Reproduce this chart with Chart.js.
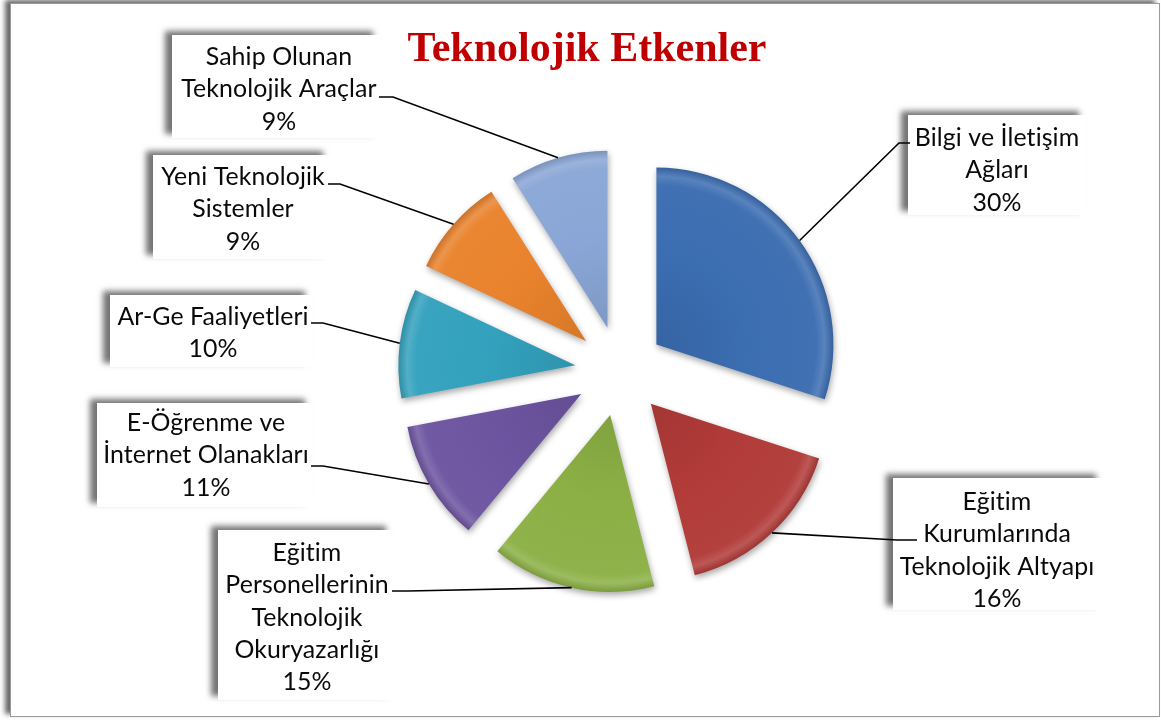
<!DOCTYPE html>
<html><head><meta charset="utf-8">
<script src="https://cdn.jsdelivr.net/npm/chart.js@4.4.1/dist/chart.umd.min.js"></script>
<style>html,body{margin:0;padding:0;background:#fff;overflow:hidden}canvas{display:block}</style>
</head><body>
<canvas id="c" width="1161" height="720"></canvas>
<script>
// ---- data ----
const chartTitle = "Teknolojik Etkenler";
const categories = [
  ["Bilgi ve İletişim", "Ağları"],
  ["Eğitim", "Kurumlarında", "Teknolojik Altyapı"],
  ["Eğitim", "Personellerinin", "Teknolojik", "Okuryazarlığı"],
  ["E-Öğrenme ve", "İnternet Olanakları"],
  ["Ar-Ge Faaliyetleri"],
  ["Yeni Teknolojik", "Sistemler"],
  ["Sahip Olunan", "Teknolojik Araçlar"]
];
const values = [30, 16, 15, 11, 10, 9, 9];

// ---- style / layout ----
const colors = ["#3B6DB1", "#B13B38", "#8CB045", "#6D54A0", "#33A1BD", "#E9822C", "#89A6D6"];
const EXPLODE = 45, RADIUS = 177;
const labelLayout = [
  {x: 908, y: 115, w: 178, h: 100, cx: 997, ty: 138, anchor: [910, 143], elbow: [899, 143]},
  {x: 893, y: 478, w: 210, h: 132, cx: 997, ty: 502, anchor: [917, 540], elbow: [897, 540]},
  {x: 218, y: 530, w: 175, h: 170, cx: 307, ty: 553, anchor: [392, 591], elbow: [408, 591]},
  {x: 97,  y: 403, w: 215, h: 104, cx: 206, ty: 423, anchor: [311, 466], elbow: [323, 466]},
  {x: 110, y: 295, w: 202, h: 72,  cx: 213, ty: 317, anchor: [311, 323], elbow: [323, 323]},
  {x: 153, y: 155, w: 177, h: 104, cx: 243, ty: 177, anchor: [328, 184], elbow: [340, 184]},
  {x: 172, y: 35,  w: 208, h: 103, cx: 279, ty: 57,  anchor: [379, 97],  elbow: [393, 97]}
];
const LINE_H = 32.3;

function hexToRgb(h){const n=parseInt(h.slice(1),16);return [(n>>16)&255,(n>>8)&255,n&255];}
function shade(h, t){
  const c = hexToRgb(h);
  const r = c.map(v => t >= 0 ? Math.round(v + (255 - v) * t) : Math.round(v * (1 + t)));
  return `rgb(${r[0]},${r[1]},${r[2]})`;
}
function sliceFill(context){
  const ch = context.chart, a = ch.chartArea;
  const base = colors[context.dataIndex];
  if (!a) return base;
  const cx = (a.left + a.right) / 2, cy = (a.top + a.bottom) / 2;
  const g = ch.ctx.createRadialGradient(cx, cy, 0, cx, cy, RADIUS);
  g.addColorStop(0, shade(base, -0.08));
  g.addColorStop(0.5, base);
  g.addColorStop(0.9, shade(base, 0.03));
  g.addColorStop(0.95, shade(base, 0.15));
  g.addColorStop(1, shade(base, -0.12));
  return g;
}

const framePlugin = {
  id: 'frame',
  beforeDraw(chart){
    const ctx = chart.ctx;
    ctx.save();
    ctx.fillStyle = '#fff';
    ctx.fillRect(0, 0, chart.width, chart.height);
    ctx.shadowColor = 'rgba(0,0,0,0.6)';
    ctx.shadowBlur = 5; ctx.shadowOffsetX = -5; ctx.shadowOffsetY = -3;
    ctx.fillRect(10, 3, 1150, 714);
    ctx.restore();
    ctx.save();
    ctx.strokeStyle = '#9a9a9a'; ctx.lineWidth = 1;
    ctx.strokeRect(10.5, 3.5, 1149, 713);
    ctx.fillStyle = '#C00000';
    ctx.font = 'bold 42px "Liberation Serif", "Times New Roman", serif';
    ctx.textAlign = 'center'; ctx.textBaseline = 'alphabetic';
    ctx.fillText(chartTitle, 587, 61);
    ctx.restore();
  }
};

const explodePlugin = {
  id: 'explode',
  beforeDatasetDraw(chart, args){
    const ctx = chart.ctx;
    args.meta.data.forEach(arc => {
      const mid = (arc.startAngle + arc.endAngle) / 2;
      ctx.save();
      ctx.translate(Math.cos(mid) * EXPLODE, Math.sin(mid) * EXPLODE);
      ctx.shadowColor = 'rgba(0,0,0,0.35)';
      ctx.shadowBlur = 6; ctx.shadowOffsetX = 1; ctx.shadowOffsetY = 3;
      arc.draw(ctx);
      ctx.restore();
    });
    return false;
  }
};

const labelPlugin = {
  id: 'calloutLabels',
  afterDatasetsDraw(chart){
    const ctx = chart.ctx;
    const meta = chart.getDatasetMeta(0);
    ctx.save();
    ctx.font = '100px Lato';
    if ('letterSpacing' in ctx) ctx.letterSpacing = '0.1px';
    const w100 = ctx.measureText('Teknolojik Araçlar').width;
    ctx.restore();
    const fs = 100 * 194 / w100;
    const total = values.reduce((s, v) => s + v, 0);
    meta.data.forEach((arc, i) => {
      const L = labelLayout[i];
      ctx.save();
      ctx.shadowColor = 'rgba(0,0,0,0.55)';
      ctx.shadowBlur = 6; ctx.shadowOffsetX = -7; ctx.shadowOffsetY = -4;
      ctx.fillStyle = '#fff';
      ctx.fillRect(L.x, L.y, L.w, L.h);
      ctx.restore();
      const mid = (arc.startAngle + arc.endAngle) / 2;
      const r = arc.outerRadius + EXPLODE;
      const px = arc.x + Math.cos(mid) * r, py = arc.y + Math.sin(mid) * r;
      ctx.save();
      ctx.strokeStyle = '#000'; ctx.lineWidth = 1.6;
      ctx.beginPath();
      ctx.moveTo(px, py);
      ctx.lineTo(L.elbow[0], L.elbow[1]);
      ctx.lineTo(L.anchor[0], L.anchor[1]);
      ctx.stroke();
      ctx.restore();
      const lines = categories[i].concat([Math.round(values[i] / total * 100) + '%']);
      ctx.save();
      ctx.fillStyle = '#0a0a0a';
      ctx.font = fs.toFixed(2) + 'px Lato';
      if ('letterSpacing' in ctx) ctx.letterSpacing = '0.1px';
      ctx.textAlign = 'center'; ctx.textBaseline = 'middle';
      lines.forEach((t, k) => ctx.fillText(t, L.cx, L.ty + k * LINE_H));
      ctx.restore();
    });
  }
};

new Chart(document.getElementById('c'), {
  type: 'pie',
  data: {
    labels: categories,
    datasets: [{
      data: values,
      backgroundColor: sliceFill,
      borderWidth: 0,
      offset: 0
    }]
  },
  options: {
    responsive: false,
    devicePixelRatio: 1,
    animation: false,
    radius: RADIUS,
    layout: {padding: {left: 79, right: 0, top: 22, bottom: 0}},
    plugins: {legend: {display: false}, tooltip: {enabled: false}, title: {display: false}},
    events: []
  },
  plugins: [framePlugin, explodePlugin, labelPlugin]
});
</script>
</body></html>
